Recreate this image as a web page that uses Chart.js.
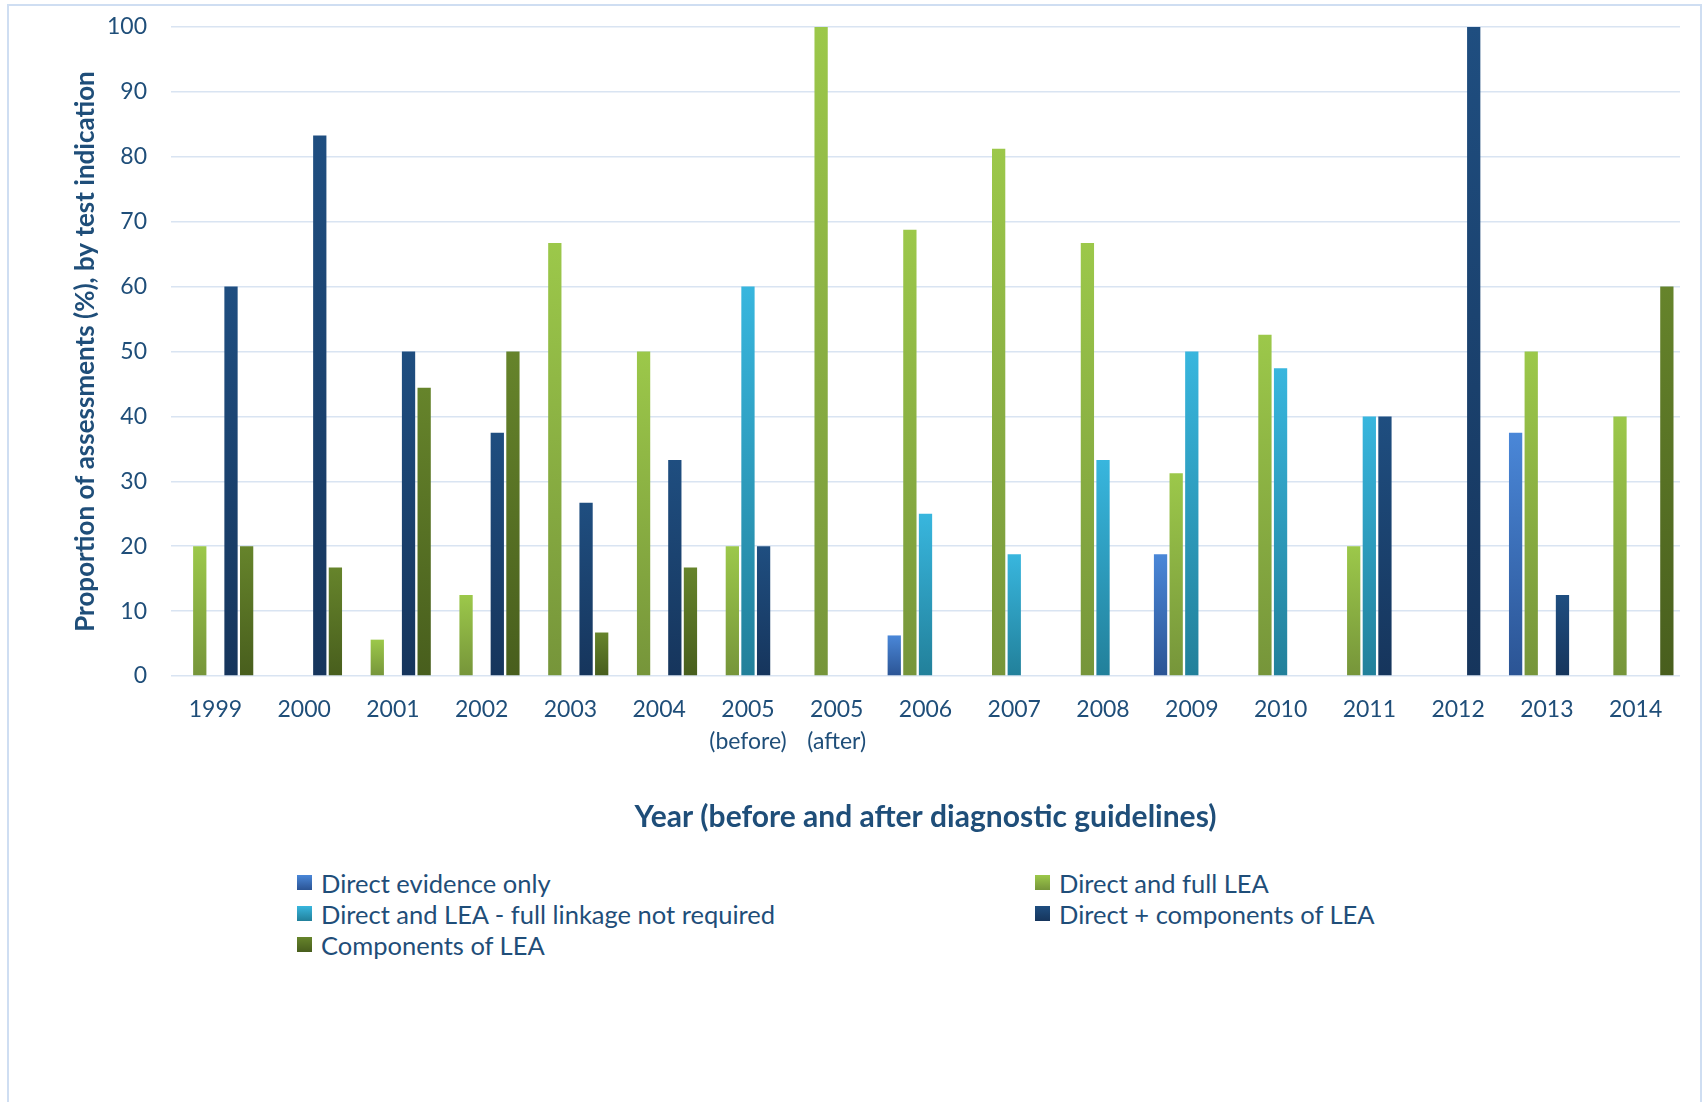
<!DOCTYPE html>
<html>
<head>
<meta charset="utf-8">
<script src="https://cdn.jsdelivr.net/npm/chart.js@4.4.1/dist/chart.umd.min.js"></script>
<style>
  body { margin: 0; background: #fff; font-family: Lato, sans-serif; }
  .frame { position: absolute; left: 7px; top: 4px; width: 1695px; height: 1200px;
           border: 2px solid #cfdef2; box-sizing: border-box; }
  .wrap { position: absolute; left: 0; top: 0; width: 1705px; height: 844px; }
  .legend { position: absolute; left: 297px; top: 867px; display: grid;
            grid-template-columns: 738px auto; color: #1f4e79; font-size: 25.5px; }
  .legend div { display: flex; align-items: center; height: 31px; white-space: nowrap; }
  .legend span { display: inline-block; width: 15px; height: 15px; margin-right: 9px; }
</style>
</head>
<body>
<div class="frame"></div>
<div class="wrap"><canvas id="myChart"></canvas></div>
<div class="legend" id="legend"></div>
<script>
// categories (multi-line labels)
let years = ["1999", "2000", "2001", "2002", "2003", "2004", ["2005", "(before)"], ["2005", "(after)"],
    "2006", "2007", "2008", "2009", "2010", "2011", "2012", "2013", "2014"];

// series values (%), null = no bar
let directOnly   = [null, null, null, null, null, null, null, null, 6.25, null, null, 18.75, null, null, null, 37.5, null];
let directFull   = [20, null, 5.6, 12.5, 66.7, 50, 20, 100, 68.75, 81.25, 66.7, 31.25, 52.6, 20, null, 50, 40];
let directLinkNR = [null, null, null, null, null, null, 60, null, 25, 18.75, 33.3, 50, 47.4, 40, null, null, null];
let directComp   = [60, 83.3, 50, 37.5, 26.7, 33.3, 20, null, null, null, null, null, null, 40, 100, 12.5, null];
let componentsOnly = [20, 16.7, 44.4, 50, 6.7, 16.7, null, null, null, null, null, null, null, null, null, null, 60];

let seriesNames = ["Direct evidence only", "Direct and full LEA", "Direct and LEA - full linkage not required",
    "Direct + components of LEA", "Components of LEA"];
let seriesValues = [directOnly, directFull, directLinkNR, directComp, componentsOnly];
// [top colour, bottom colour]
let seriesColors = [["#4a87d8", "#2b5494"], ["#9cc84a", "#76953a"], ["#38b6de", "#22809a"],
    ["#1f4e80", "#16355c"], ["#66842b", "#485e1d"]];

let textColor = "#1f4e79";

function barGradient(colors) {
    return function (context) {
        let chart = context.chart;
        if (!chart.chartArea || context.parsed == null) return colors[0];
        let y = chart.scales.y;
        let top = y.getPixelForValue(context.parsed.y);
        let bottom = y.getPixelForValue(0);
        if (!isFinite(top) || top === bottom) return colors[0];
        let g = chart.ctx.createLinearGradient(0, top, 0, bottom);
        g.addColorStop(0, colors[0]);
        g.addColorStop(1, colors[1]);
        return g;
    };
}

let ctx = document.getElementById("myChart").getContext('2d');
let myChart = new Chart(ctx, {
    type: 'bar',
    data: {
        labels: years,
        datasets: seriesNames.map(function (name, i) {
            return {
                label: name,
                data: seriesValues[i],
                backgroundColor: barGradient(seriesColors[i]),
                categoryPercentage: 0.88,
                barPercentage: 0.85
            };
        })
    },
    options: {
        responsive: true,
        maintainAspectRatio: false,
        animation: false,
        layout: { padding: { left: 70, right: 25, top: 27, bottom: 0 } },
        plugins: { legend: { display: false }, tooltip: { enabled: false } },
        scales: {
            x: {
                grid: { display: false, drawTicks: false },
                border: { display: false },
                ticks: { color: textColor, font: { family: 'Lato', size: 23, lineHeight: 1.37 }, padding: 18, maxRotation: 0, autoSkip: false },
                title: { display: true, text: 'Year (before and after diagnostic guidelines)', color: textColor,
                    font: { family: 'Lato', size: 30, weight: 'bold' }, padding: { top: 0, bottom: 9 } },
                afterFit: function (s) { s.height = 844 - 676; }
            },
            y: {
                min: 0,
                max: 100,
                ticks: { stepSize: 10, color: textColor, font: { family: 'Lato', size: 23 }, padding: 24 },
                grid: { color: '#d9e4f2', lineWidth: 1.5, drawTicks: false },
                border: { display: false },
                title: { display: true, text: 'Proportion of assessments (%), by test indication', color: textColor,
                    font: { family: 'Lato', size: 26, weight: 'bold' }, padding: { top: 0, bottom: 0 } },
                afterFit: function (s) { s.width = 171 - 70; s.paddingTop = 0; s.paddingBottom = 0; }
            }
        }
    }
});

// legend in two columns, row by row like the original
let legend = document.getElementById('legend');
seriesNames.forEach(function (name, i) {
    let item = document.createElement('div');
    let box = document.createElement('span');
    box.style.background = 'linear-gradient(' + seriesColors[i][0] + ',' + seriesColors[i][1] + ')';
    item.appendChild(box);
    item.appendChild(document.createTextNode(name));
    legend.appendChild(item);
});
</script>
</body>
</html>
